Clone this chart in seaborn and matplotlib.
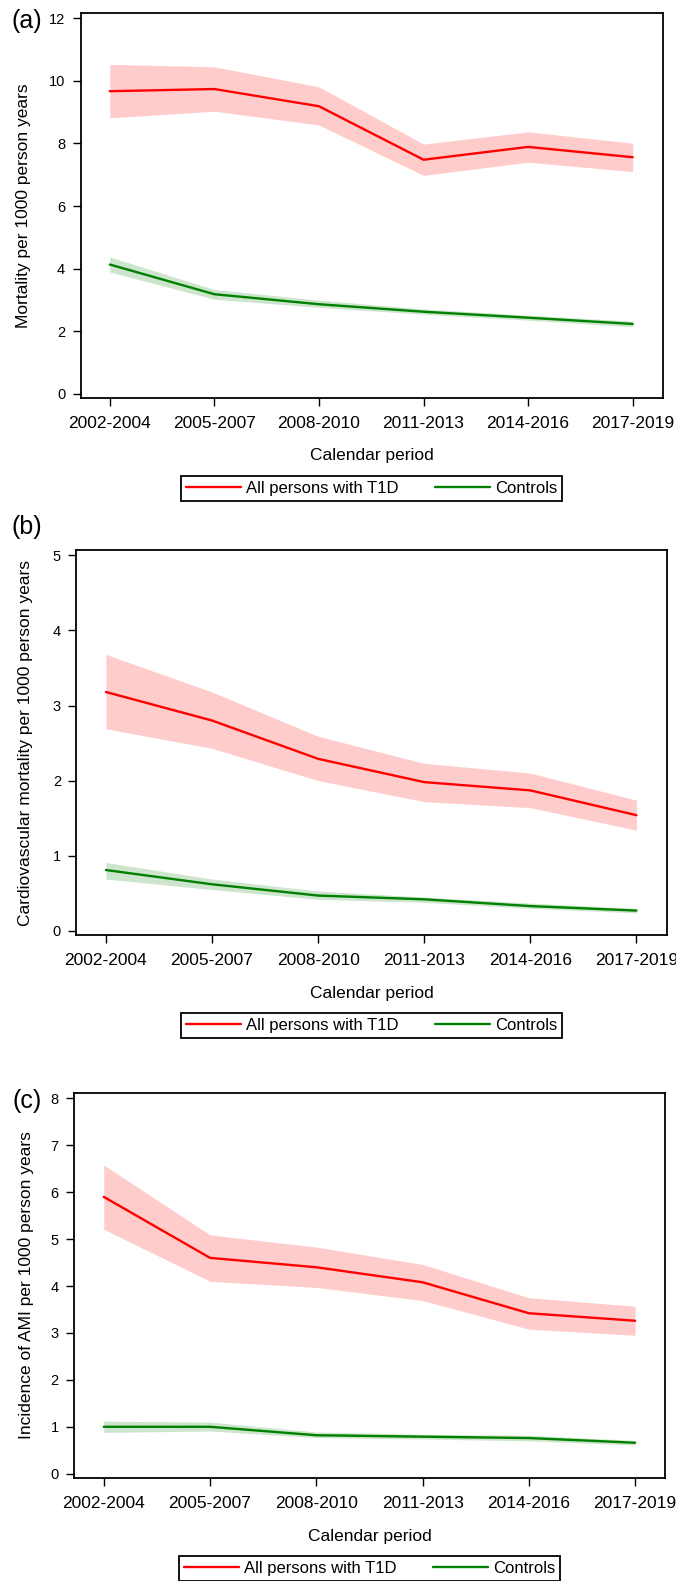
import pandas as pd
import matplotlib
matplotlib.use("Agg")
import matplotlib.pyplot as plt
import seaborn as sns

periods = ['2002-2004', '2005-2007', '2008-2010', '2011-2013', '2014-2016', '2017-2019']
groups = ['All persons with T1D', 'Controls']

# (a) all-cause mortality
mort_t1d = [9.67, 9.74, 9.19, 7.48, 7.89, 7.56]
mort_t1d_lo = [8.82, 9.03, 8.59, 6.98, 7.40, 7.10]
mort_t1d_hi = [10.53, 10.45, 9.81, 7.98, 8.37, 8.01]
mort_ctrl = [4.13, 3.18, 2.86, 2.62, 2.43, 2.23]
mort_ctrl_lo = [3.89, 3.02, 2.76, 2.54, 2.35, 2.14]
mort_ctrl_hi = [4.37, 3.33, 2.99, 2.71, 2.51, 2.32]

# (b) cardiovascular mortality
cvd_t1d = [3.18, 2.80, 2.29, 1.98, 1.87, 1.54]
cvd_t1d_lo = [2.69, 2.43, 2.00, 1.72, 1.64, 1.34]
cvd_t1d_hi = [3.68, 3.18, 2.59, 2.23, 2.10, 1.74]
cvd_ctrl = [0.81, 0.62, 0.47, 0.42, 0.33, 0.27]
cvd_ctrl_lo = [0.69, 0.55, 0.42, 0.38, 0.30, 0.24]
cvd_ctrl_hi = [0.91, 0.69, 0.53, 0.45, 0.37, 0.30]

# (c) incidence of AMI
ami_t1d = [5.90, 4.60, 4.40, 4.08, 3.42, 3.26]
ami_t1d_lo = [5.21, 4.10, 3.97, 3.69, 3.08, 2.95]
ami_t1d_hi = [6.58, 5.09, 4.83, 4.46, 3.75, 3.57]
ami_ctrl = [1.00, 1.00, 0.82, 0.79, 0.76, 0.66]
ami_ctrl_lo = [0.88, 0.91, 0.77, 0.74, 0.70, 0.61]
ami_ctrl_hi = [1.12, 1.10, 0.89, 0.84, 0.82, 0.71]

colors = {'All persons with T1D': '#ff0000', 'Controls': '#008000'}

sns.set_style("ticks")
plt.rcParams['font.family'] = ['Liberation Sans', 'DejaVu Sans']
plt.rcParams['text.color'] = 'black'
plt.rcParams['axes.labelcolor'] = 'black'
plt.rcParams['xtick.color'] = 'black'
plt.rcParams['ytick.color'] = 'black'

W, H = 676, 1581
fig = plt.figure(figsize=(W / 100, H / 100), dpi=100)


def rect(l, r, t, b):
    return [l / W, 1 - b / H, (r - l) / W, (b - t) / H]


panels = [
    dict(tag='(a)', tag_xy=(27, 21), box=(80.5, 662.5, 12.7, 397.7), ylim=(-0.128, 12.18),
         yticks=[0, 2, 4, 6, 8, 10, 12], ylab='Mortality per 1000 person years', ylab_x=24,
         t1d=(mort_t1d, mort_t1d_lo, mort_t1d_hi), ctrl=(mort_ctrl, mort_ctrl_lo, mort_ctrl_hi)),
    dict(tag='(b)', tag_xy=(27, 527), box=(76.2, 666.7, 550, 935), ylim=(-0.055, 5.07),
         yticks=[0, 1, 2, 3, 4, 5], ylab='Cardiovascular mortality per 1000 person years', ylab_x=26,
         t1d=(cvd_t1d, cvd_t1d_lo, cvd_t1d_hi), ctrl=(cvd_ctrl, cvd_ctrl_lo, cvd_ctrl_hi)),
    dict(tag='(c)', tag_xy=(27, 1101), box=(74, 665.4, 1092.7, 1477.7), ylim=(-0.085, 8.12),
         yticks=[0, 1, 2, 3, 4, 5, 6, 7, 8], ylab='Incidence of AMI per 1000 person years', ylab_x=26.5,
         t1d=(ami_t1d, ami_t1d_lo, ami_t1d_hi), ctrl=(ami_ctrl, ami_ctrl_lo, ami_ctrl_hi)),
]

for p in panels:
    l, r, t, b = p['box']
    ax = fig.add_axes(rect(l, r, t, b))

    rows = []
    for g, (mid, lo, hi) in zip(groups, [p['t1d'], p['ctrl']]):
        ax.fill_between(periods, lo, hi, color=colors[g], alpha=0.2, linewidth=0, zorder=1)
        for per, v in zip(periods, mid):
            rows.append({'period': per, 'rate': v, 'group': g})
    df = pd.DataFrame(rows)
    sns.lineplot(data=df, x='period', y='rate', hue='group', palette=colors,
                 linewidth=1.7, ax=ax, legend=False, zorder=3)

    ax.set_xlim(-0.28, 5.285)
    ax.set_ylim(*p['ylim'])
    ax.set_yticks(p['yticks'])
    ax.tick_params(axis='x', labelsize=12.5, length=6, width=1, pad=7, direction='out')
    ax.tick_params(axis='y', labelsize=10.5, length=6, width=1, pad=5, direction='out')
    for s in ax.spines.values():
        s.set_linewidth(1.3)
        s.set_color('black')

    h = b - t
    ax.set_xlabel('Calendar period', fontsize=12.5, va='center')
    ax.xaxis.set_label_coords(0.5, -58.3 / h)
    ax.set_ylabel(p['ylab'], fontsize=12.5, va='center')
    ax.yaxis.set_label_coords((p['ylab_x'] - l) / (r - l), 0.5)

    leg = ax.legend(handles=ax.get_lines()[:2], labels=groups, loc='center',
                    bbox_to_anchor=(0.5, -90.5 / h), ncol=2, fontsize=12,
                    frameon=True, fancybox=False, framealpha=1, edgecolor='black',
                    borderpad=0.3, handlelength=3.3, handletextpad=0.3, columnspacing=2.2)
    leg.get_frame().set_linewidth(1.3)

    fig.text(p['tag_xy'][0] / W, 1 - p['tag_xy'][1] / H, p['tag'], fontsize=18,
             ha='center', va='center')

fig.savefig('out.png', dpi=100)
